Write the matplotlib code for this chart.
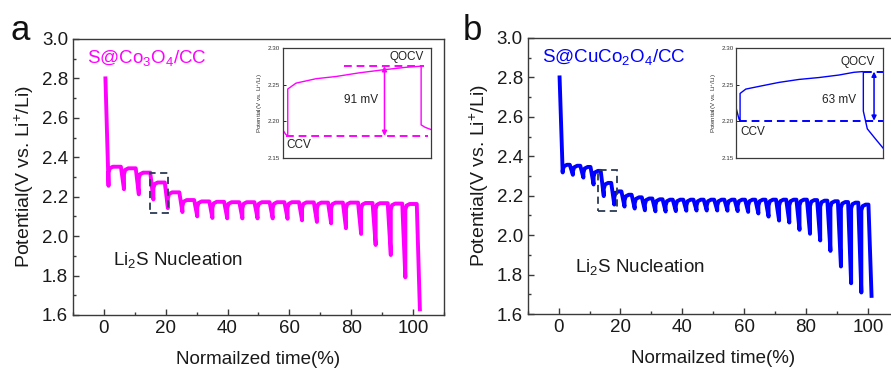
import matplotlib
matplotlib.use("Agg")
import matplotlib.pyplot as plt
from matplotlib.ticker import MultipleLocator

plt.rcParams['font.family'] = ['Liberation Sans', 'DejaVu Sans']
plt.rcParams['mathtext.fontset'] = 'custom'
plt.rcParams['mathtext.rm'] = 'Liberation Sans'
plt.rcParams['mathtext.it'] = 'Liberation Sans'

# ---------------- data: panel a (S@Co3O4/CC) ----------------
t_a = [0.5, 5.5, 10.3, 15.0, 19.7, 24.4, 29.2, 34.1, 38.9, 43.8, 48.7,
       53.6, 58.4, 63.1, 67.9, 72.5, 77.3, 82.2, 86.9, 91.8, 96.5, 101.2]
top_a = [2.80, 2.352, 2.344, 2.322, 2.272, 2.222, 2.183, 2.176, 2.174, 2.172, 2.172,
         2.172, 2.172, 2.172, 2.171, 2.170, 2.170, 2.170, 2.168, 2.167, 2.165, 2.163]
min_a = [2.255, 2.238, 2.212, 2.186, 2.142, 2.122, 2.100, 2.092, 2.090, 2.090, 2.090,
         2.090, 2.088, 2.080, 2.072, 2.065, 2.040, 2.011, 1.955, 1.904, 1.791, 1.629]

# ---------------- data: panel b (S@CuCo2O4/CC) ----------------
t_b = [0.3, 3.6, 7.0, 10.3, 13.6, 17.0, 20.3, 23.6, 26.9, 30.3, 33.6,
       36.9, 40.3, 43.6, 46.9, 50.3, 53.6, 56.9, 60.3, 63.6, 66.9, 70.3,
       73.6, 76.9, 80.3, 83.6, 86.9, 90.3, 93.6, 96.9, 100.2]
top_b = [2.80, 2.357, 2.352, 2.346, 2.326, 2.265, 2.222, 2.205, 2.192, 2.186, 2.182,
         2.180, 2.180, 2.180, 2.180, 2.180, 2.180, 2.180, 2.180, 2.180, 2.180, 2.180,
         2.180, 2.180, 2.180, 2.178, 2.175, 2.172, 2.168, 2.165, 2.155]
min_b = [2.318, 2.306, 2.292, 2.257, 2.198, 2.155, 2.145, 2.135, 2.126, 2.121, 2.120,
         2.122, 2.124, 2.125, 2.125, 2.125, 2.124, 2.122, 2.118, 2.110, 2.094, 2.074,
         2.064, 2.027, 2.007, 1.973, 1.920, 1.841, 1.756, 1.709, 1.692]

# dashed boxes (t0, t1, v0, v1)
box_a = [14.8, 20.8, 2.116, 2.319]
box_b = [12.7, 18.9, 2.125, 2.331]

# ---------------- inset data ----------------
ins_a_x = [0, 2.2, 3.4, 3.4, 9, 22.5, 36, 51.7, 67.4, 83.2, 93.3, 93.3, 96, 100]
ins_a_v = [2.1886, 2.182, 2.181, 2.244, 2.252, 2.258, 2.261, 2.266, 2.270, 2.2735, 2.275, 2.1954, 2.192, 2.189]
ins_a_qocv, ins_a_ccv = 2.275, 2.1804
ins_a_q_span, ins_a_c_span = (41.6, 95.5), (2.2, 98)
ins_a_arrow_x = 68.6

ins_b_x = [0, 1.8, 2.5, 2.5, 6.4, 15.5, 29.1, 42.7, 56.4, 70, 80.2, 85.9, 86.6, 86.6, 89.3, 95, 100]
ins_b_v = [2.2167, 2.203, 2.201, 2.238, 2.2439, 2.2476, 2.253, 2.257, 2.2596, 2.263, 2.2667, 2.2676, 2.2676, 2.214, 2.19, 2.176, 2.164]
ins_b_qocv, ins_b_ccv = 2.2676, 2.201
ins_b_q_span, ins_b_c_span = (87, 100), (1.8, 100)
ins_b_arrow_x = 93.9

MAG = '#ff00ff'
BLU = '#0000ff'
BOXC = '#2b3a55'
SPINE = '#3a3a3a'


def build_curve(t, top, vmin, w=1.0):
    xs, ys = [], []
    n = len(t)
    for i in range(n):
        xs += [t[i], t[i] + w]
        ys += [top[i], vmin[i]]
        if i < n - 1:
            xs += [t[i] + w, t[i] + w + 0.4, t[i] + w + 1.4, t[i + 1]]
            ys += [top[i + 1] - 0.03, top[i + 1] - 0.008, top[i + 1], top[i + 1]]
    return xs, ys


fig = plt.figure(figsize=(8.91, 3.71), dpi=100)

def main_axes(rect, t, top, vmin, box, color, label, nuc_xy, letter, letter_xy):
    ax = fig.add_axes(rect)
    xs, ys = build_curve(t, top, vmin)
    ax.plot(xs, ys, color=color, lw=2.8, solid_joinstyle='round')
    ax.add_patch(plt.Rectangle((box[0], box[2]), box[1] - box[0], box[3] - box[2],
                               fill=False, ls=(0, (4, 2.5)), lw=1.3, ec=BOXC, zorder=5))
    ax.set_xlim(-10, 110)
    ax.set_ylim(1.6, 3.0)
    ax.xaxis.set_major_locator(MultipleLocator(20))
    ax.xaxis.set_minor_locator(MultipleLocator(10))
    ax.yaxis.set_major_locator(MultipleLocator(0.2))
    ax.yaxis.set_minor_locator(MultipleLocator(0.1))
    ax.tick_params(which='both', direction='in', labelsize=13.5, colors=SPINE, labelcolor='#1a1a1a')
    ax.tick_params(which='major', length=4, width=1)
    ax.tick_params(which='minor', length=2.5, width=1)
    for s in ax.spines.values():
        s.set_color(SPINE)
        s.set_linewidth(1.0)
    ax.set_xlabel('Normailzed time(%)', fontsize=13.5, labelpad=10, color='#1a1a1a')
    ax.set_ylabel('Potential(V vs. Li$^{+}$/Li)', fontsize=14, labelpad=4, color='#1a1a1a')
    ax.text(-5.5, 2.905, label, color=color, fontsize=13.5, va='center', ha='left')
    ax.text(nuc_xy[0], nuc_xy[1], 'Li$_{2}$S Nucleation', fontsize=13.5, va='center', ha='left',
            color='#1a1a1a')
    fig.text(letter_xy[0], letter_xy[1], letter, fontsize=25, ha='left', va='baseline', color='#111111')
    return ax


def inset_axes(rect, x, v, color, qocv, ccv, q_span, c_span, arrow_x, mv_text, mv_xy, q_xy, c_xy):
    ax = fig.add_axes(rect)
    ax.plot(x, v, color=color, lw=1.0)
    ax.plot(q_span, [qocv, qocv], color=color, lw=1.4, ls=(0, (4, 2.5)))
    ax.plot(c_span, [ccv, ccv], color=color, lw=1.4, ls=(0, (4, 2.5)))
    ax.annotate('', xy=(arrow_x, ccv), xytext=(arrow_x, qocv),
                arrowprops=dict(arrowstyle='<|-|>', color=color, lw=1.1,
                                mutation_scale=7, shrinkA=0, shrinkB=0))
    ax.set_xlim(0, 100)
    ax.set_ylim(2.15, 2.30)
    ax.set_xticks([])
    ax.set_yticks([2.15, 2.20, 2.25, 2.30])
    ax.set_yticklabels(['2.15', '2.20', '2.25', '2.30'])
    ax.tick_params(axis='y', direction='in', length=2, width=0.6, labelsize=4.5,
                   labelcolor='#333333', pad=2)
    for s in ax.spines.values():
        s.set_color(SPINE)
        s.set_linewidth(0.9)
    ax.set_ylabel('Potential(V vs. Li$^{+}$/Li)', fontsize=4.5, labelpad=2, color='#333333')
    ax.text(mv_xy[0], mv_xy[1], mv_text, fontsize=8.5, ha='right', va='center', color='#222222')
    ax.text(q_xy[0], q_xy[1], 'QOCV', fontsize=8.5, ha='left', va='center', color='#222222')
    ax.text(c_xy[0], c_xy[1], 'CCV', fontsize=8.5, ha='left', va='center', color='#222222')
    return ax


main_axes([0.0819, 0.151, 0.4164, 0.744], t_a, top_a, min_a, box_a, MAG,
          'S@Co$_{3}$O$_{4}$/CC', (3.0, 1.88), 'a', (0.012, 0.893))
main_axes([0.5923, 0.1536, 0.4164, 0.744], t_b, top_b, min_b, box_b, BLU,
          'S@CuCo$_{2}$O$_{4}$/CC', (5.2, 1.84), 'b', (0.519, 0.893))

inset_axes([0.3173, 0.5733, 0.1665, 0.298], ins_a_x, ins_a_v, MAG, ins_a_qocv, ins_a_ccv,
           ins_a_q_span, ins_a_c_span, ins_a_arrow_x, '91 mV', (64, 2.2295), (72, 2.287), (2.3, 2.168))
inset_axes([0.8265, 0.5733, 0.1645, 0.298], ins_b_x, ins_b_v, BLU, ins_b_qocv, ins_b_ccv,
           ins_b_q_span, ins_b_c_span, ins_b_arrow_x, '63 mV', (82, 2.2286), (71, 2.281), (3, 2.186))

fig.savefig('out.png', dpi=100, facecolor='white')
